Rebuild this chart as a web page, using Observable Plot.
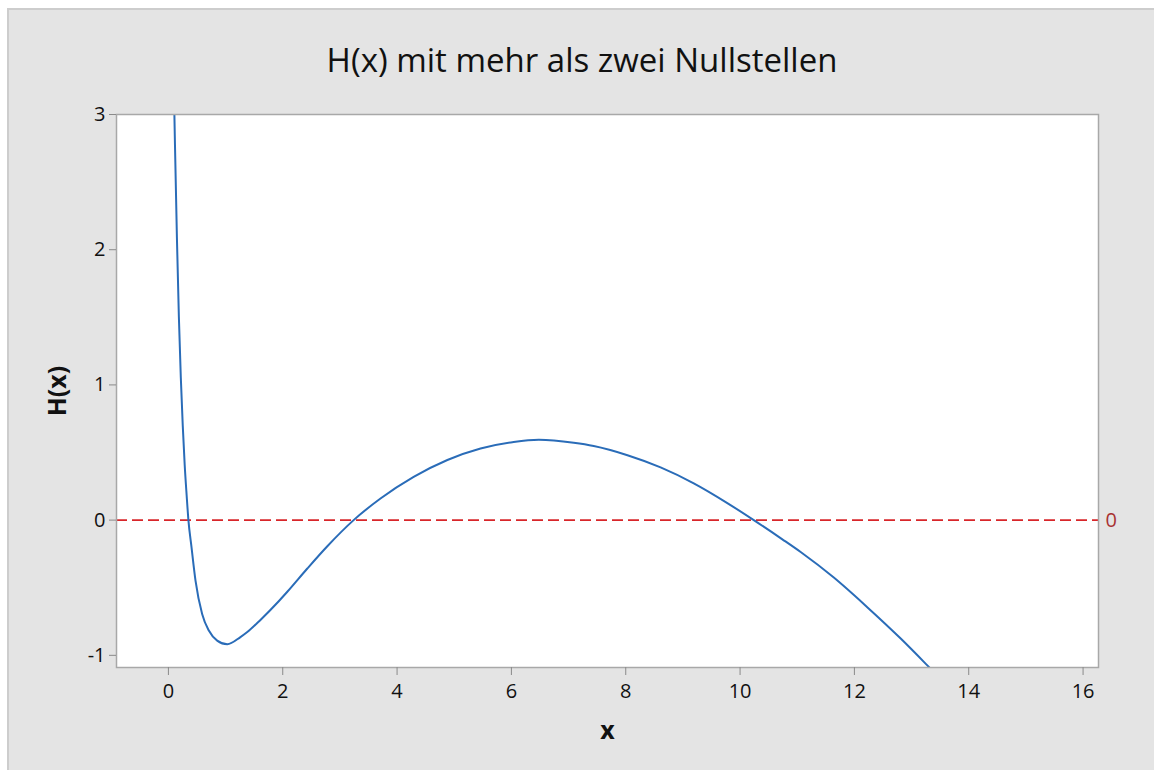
<!DOCTYPE html>
<html><head><meta charset="utf-8">
<script src="https://cdn.jsdelivr.net/npm/d3@7"></script>
<script src="https://cdn.jsdelivr.net/npm/@observablehq/plot@0.6"></script>
<style>
html,body{margin:0;padding:0;background:#fff;}
#wrap{position:relative;width:1154px;height:770px;overflow:hidden;font-family:"Open Sans",sans-serif;}
#panel{position:absolute;left:7px;top:8px;width:1147px;height:762px;background:#e4e4e4;border-left:2px solid #cdcdcd;border-top:2px solid #cdcdcd;box-sizing:border-box;}
#title{position:absolute;left:7px;width:1150px;top:38px;text-align:center;font-size:33px;color:#111;line-height:44px;}
#chart{position:absolute;left:0;top:0;}
</style></head><body>
<div id="wrap"><div id="panel"></div><div id="title"></div><div id="chart"></div></div>
<script>
const chartTitle = "H(x) mit mehr als zwei Nullstellen";
const xLabel = "x";
const yLabel = "H(x)";
const xValues = [0.101, 0.115, 0.149, 0.183, 0.217, 0.251, 0.285, 0.319, 0.35, 0.404, 0.474, 0.59, 0.707, 0.853, 1.03, 1.26, 1.38, 1.61, 1.93, 2.08, 2.43, 2.78, 3.24, 3.71, 4.29, 4.88, 5.46, 6.04, 6.48, 7.09, 7.44, 8.03, 8.61, 9.19, 9.77, 10.24, 10.74, 11.06, 11.64, 12.22, 12.81, 13.33, 13.45];
const hValues = [3.08, 2.773, 2.086, 1.504, 1.055, 0.699, 0.408, 0.184, 0, -0.2, -0.447, -0.694, -0.817, -0.891, -0.918, -0.865, -0.828, -0.738, -0.6, -0.53, -0.358, -0.193, 0, 0.16, 0.32, 0.445, 0.53, 0.578, 0.594, 0.572, 0.548, 0.48, 0.39, 0.272, 0.128, 0, -0.142, -0.236, -0.425, -0.642, -0.876, -1.098, -1.15];
const xTicks = [0, 2, 4, 6, 8, 10, 12, 14, 16];
const yTicks = [-1, 0, 1, 2, 3];
const refValues = [0];

document.getElementById("title").textContent = chartTitle;
const data = xValues.map((x, i) => ({x, h: hValues[i]}));
const font = "'Open Sans', sans-serif";
const chart = Plot.plot({
  width: 1154, height: 770,
  marginLeft: 116, marginRight: 56, marginTop: 114, marginBottom: 103,
  style: {background: "transparent", fontFamily: font},
  x: {domain: [-0.908, 16.27]},
  y: {domain: [-1.09, 3.0]},
  marks: [
    Plot.frame({fill: "white", stroke: null}),
    Plot.ruleY(refValues, {stroke: "#d8262a", strokeWidth: 1.6, strokeDasharray: "11,5"}),
    Plot.line(data, {x: "x", y: "h", stroke: "#2a6cb8", strokeWidth: 2, curve: "monotone-x", clip: true}),
    Plot.frame({stroke: "#a8a8a8", strokeWidth: 1.5}),
    Plot.axisX({ticks: xTicks, tickFormat: d => String(d), tickSize: 8, tickPadding: 8, fontSize: 20, stroke: "#8a8a8a", fill: "#111", label: null}),
    Plot.axisY({ticks: yTicks, tickFormat: d => String(d), tickSize: 7, tickPadding: 4, fontSize: 20, stroke: "#8a8a8a", fill: "#111", label: null}),
    Plot.text(refValues, {y: d => d, text: d => String(d), frameAnchor: "right", dx: 7, textAnchor: "start", fill: "#a83232", fontSize: 20}),
    Plot.text([xLabel], {text: d => d, frameAnchor: "bottom", lineAnchor: "middle", textAnchor: "middle", dy: 63, fontWeight: "bold", fontSize: 25, fill: "#111"}),
    Plot.text([yLabel], {text: d => d, frameAnchor: "left", lineAnchor: "middle", textAnchor: "middle", dx: -59, rotate: -90, fontWeight: "bold", fontSize: 25, fill: "#111"})
  ]
});
document.getElementById("chart").appendChild(chart);
</script>
</body></html>
